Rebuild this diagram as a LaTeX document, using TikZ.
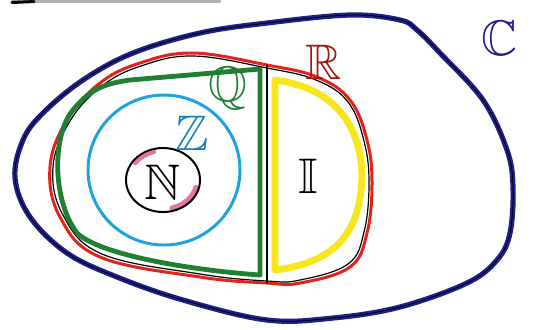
\documentclass[tikz,border=0pt]{standalone}
\usepackage{amssymb}
\begin{document}
\begin{tikzpicture}[x=0.5pt, y=-0.5pt, line cap=round, line join=round]
    \definecolor{cColour}{HTML}{1E1E8C}
    \definecolor{rColour}{HTML}{E3231B}
    \definecolor{qColour}{HTML}{1F7F33}
    \definecolor{zColour}{HTML}{1FA3E0}
    \definecolor{iColour}{HTML}{F6E61A}
    \definecolor{nColour}{HTML}{E0508A}

    \tikzset{
        setLabel/.style={font=\fontsize{25}{30}\selectfont, inner sep=0pt},
        setLine/.style={line width=#1},
    }

    \useasboundingbox (0,0) rectangle (534,329);

    % Scrap of a line at the top edge
    \draw[gray!60, line width=1.2pt] (12,1.5) -- (220,1.5);
    \draw[black, line width=1.5pt] (12,2.5) -- (34,1.5);

    % Outer set C
    \draw[cColour, setLine=2.6pt] plot[smooth cycle, tension=0.6] coordinates {
        (15,178) (23,140) (43,113) (83,80) (133,53) (200,33) (267,23) (350,15)
        (400,20) (417,30) (440,53) (483,100) (507,150) (513,187) (510,233)
        (497,260) (467,283) (400,307) (333,318) (267,320) (183,300) (117,277)
        (67,253) (30,217)};
    \draw[black, setLine=0.4pt] plot[smooth cycle, tension=0.6] coordinates {
        (15,178) (23,140) (43,113) (83,80) (133,53) (200,33) (267,23) (350,15)
        (400,20) (417,30) (440,53) (483,100) (507,150) (513,187) (510,233)
        (497,260) (467,283) (400,307) (333,318) (267,320) (183,300) (117,277)
        (67,253) (30,217)};

    % Set R
    \draw[black, setLine=0.6pt] plot[smooth cycle, tension=0.65] coordinates {
        (193,56) (267,68) (316,80) (348,102) (364,141) (369,183) (364,232)
        (348,264) (300,280) (267,281) (200,274) (102,254) (63,215) (53,167)
        (70,121) (102,86) (141,66)};
    \draw[rColour, setLine=1.5pt] plot[smooth cycle, tension=0.65] coordinates {
        (193,53) (267,65) (317,77) (350,100) (367,140) (372,183) (367,233)
        (350,267) (300,283) (267,283) (200,277) (100,257) (60,217) (50,167)
        (67,120) (100,83) (140,63)};

    % Set Q
    \draw[qColour, setLine=2.4pt] (260,69) -- (260,275)
        .. controls (190,270) and (100,255) .. (77,233)
        .. controls (52,200) and (52,135) .. (73,110)
        .. controls (88,92) and (100,84) .. (130,80) -- cycle;

    % Dividing line between Q and I
    \draw[black, setLine=0.7pt] (267,65) coordinate (divTop) -- (267,283) coordinate (divBottom);

    % Set I
    \draw[iColour, setLine=3.4pt] (275,80)
        .. controls (338,88) and (361,130) .. (362,175)
        .. controls (361,228) and (340,262) .. (275,270) -- cycle;

    % Set Z
    \draw[zColour, setLine=1.5pt] (164,170) ellipse [x radius=76, y radius=75];

    % Set N (pink shading inside the circle)
    \draw[nColour, setLine=2pt, opacity=0.8] (163,180) ++(-105:34 and 29)
        arc[start angle=-105, end angle=-145, x radius=34, y radius=29];
    \draw[nColour, setLine=2.5pt, opacity=0.8] (163,180) ++(15:34 and 29)
        arc[start angle=15, end angle=75, x radius=34, y radius=29];
    \draw[black, setLine=1pt] (163,180) ellipse [x radius=37, y radius=32];

    % Labels
    \node[setLabel] (labN) at (163,182) {$\mathbb{N}$};
    \node[setLabel, text=zColour!80!black] (labZ) at (192,133) {$\mathbb{Z}$};
    \node[setLabel, text=qColour] (labQ) at (228,88) {$\mathbb{Q}$};
    \node[setLabel, text=rColour!70!black] (labR) at (324,62) {$\mathbb{R}$};
    \node[setLabel] (labI) at (308,176) {$\mathbb{I}$};
    \node[setLabel, text=cColour] (labC) at (500,38) {$\mathbb{C}$};

\end{tikzpicture}
\end{document}
